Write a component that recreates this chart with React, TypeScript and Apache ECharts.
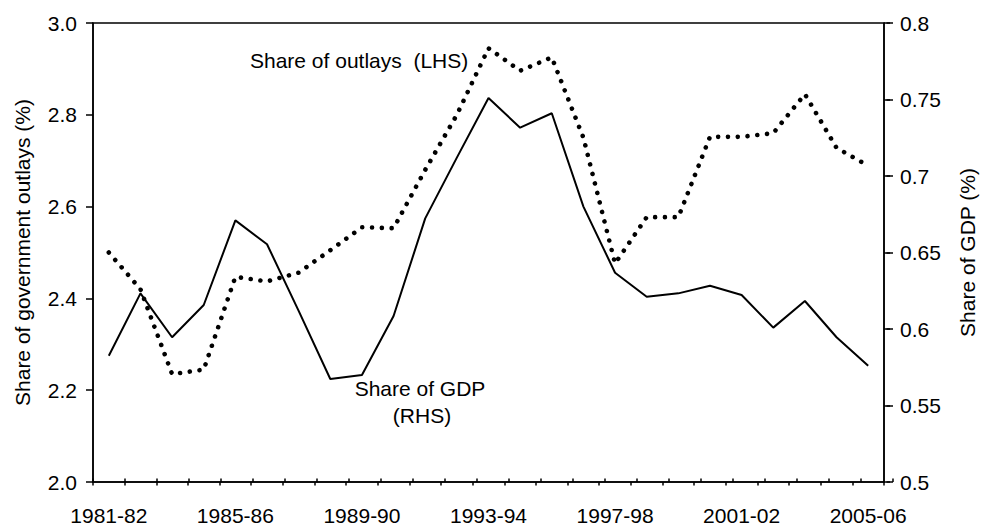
import React, { useEffect, useRef } from "react";
import * as echarts from "echarts";

const years = [
  "1981-82", "1982-83", "1983-84", "1984-85", "1985-86", "1986-87", "1987-88",
  "1988-89", "1989-90", "1990-91", "1991-92", "1992-93", "1993-94", "1994-95",
  "1995-96", "1996-97", "1997-98", "1998-99", "1999-00", "2000-01", "2001-02",
  "2002-03", "2003-04", "2004-05", "2005-06",
];

// Share of government outlays (%), LHS — dotted line
const outlaysShare = [
  2.5, 2.42, 2.235, 2.245, 2.447, 2.437, 2.456, 2.505, 2.555, 2.553, 2.68,
  2.8, 2.945, 2.896, 2.925, 2.75, 2.476, 2.577, 2.577, 2.752, 2.752, 2.76,
  2.845, 2.728, 2.689,
];

// Share of GDP (%), RHS — solid line
const gdpShare = [
  0.5825, 0.6233, 0.5946, 0.6157, 0.671, 0.6554, 0.6118, 0.5673, 0.5699,
  0.6085, 0.6723, 0.712, 0.751, 0.7316, 0.741, 0.68, 0.6368, 0.6211, 0.6233,
  0.6283, 0.6222, 0.6009, 0.6183, 0.5946, 0.576,
];

const leftMin = 2.0;
const leftMax = 3.0;
const leftStep = 0.2;
const rightMin = 0.5;
const rightMax = 0.8;
const rightStep = 0.05;

const FONT = "'Liberation Sans', Arial, Helvetica, sans-serif";
const FS = 21;
const INK = "#000";

export default function App() {
  const ref = useRef<HTMLDivElement>(null);

  useEffect(() => {
    if (!ref.current) return;
    const chart = echarts.init(ref.current, null, { renderer: "svg" });
    const grid = { left: 93, right: 93, top: 23, bottom: 46, containLabel: false };
    const lineStyle = { color: INK, width: 1.5 };
    const textStyle = { color: INK, fontSize: FS, fontFamily: FONT };

    chart.setOption({
      animation: false,
      backgroundColor: "#fff",
      grid: [
        { ...grid, show: true, borderColor: INK, borderWidth: 1.5, backgroundColor: "transparent" },
        { ...grid },
      ],
      xAxis: [
        {
          type: "category",
          gridIndex: 0,
          data: years,
          boundaryGap: true,
          axisLine: { show: true, lineStyle },
          axisTick: { show: true, interval: 0, length: 3.5, lineStyle },
          axisLabel: { interval: 3, margin: 23, ...textStyle },
          splitLine: { show: false },
        },
        {
          type: "category",
          gridIndex: 1,
          data: years,
          boundaryGap: true,
          axisLine: { show: false },
          axisTick: { show: true, inside: true, interval: 0, length: 3.5, lineStyle },
          axisLabel: { show: false },
          splitLine: { show: false },
        },
      ],
      yAxis: [
        {
          type: "value",
          gridIndex: 0,
          position: "left",
          min: leftMin,
          max: leftMax,
          interval: leftStep,
          name: "Share of government outlays (%)",
          nameLocation: "middle",
          nameGap: 60,
          nameTextStyle: textStyle,
          axisLine: { show: true, lineStyle },
          axisTick: { show: true, length: 7, lineStyle },
          axisLabel: { margin: 16, formatter: (v: number) => v.toFixed(1), ...textStyle },
          splitLine: { show: false },
        },
        {
          type: "value",
          gridIndex: 0,
          position: "right",
          min: rightMin,
          max: rightMax,
          interval: rightStep,
          name: "Share of GDP (%)",
          nameLocation: "middle",
          nameGap: 73,
          nameTextStyle: textStyle,
          axisLine: { show: true, lineStyle },
          axisTick: { show: true, length: 6, lineStyle },
          axisLabel: {
            margin: 16,
            formatter: (v: number) => String(parseFloat(v.toFixed(2))),
            ...textStyle,
          },
          splitLine: { show: false },
        },
        {
          type: "value",
          gridIndex: 1,
          position: "right",
          min: rightMin,
          max: rightMax,
          interval: rightStep,
          axisLine: { show: false },
          axisTick: { show: true, inside: true, length: 6.5, lineStyle },
          axisLabel: { show: false },
          splitLine: { show: false },
        },
      ],
      series: [
        {
          name: "Share of GDP (RHS)",
          type: "line",
          xAxisIndex: 0,
          yAxisIndex: 1,
          data: gdpShare,
          symbol: "none",
          lineStyle: { color: INK, width: 2 },
        },
        {
          name: "Share of outlays (LHS)",
          type: "line",
          xAxisIndex: 0,
          yAxisIndex: 0,
          data: outlaysShare,
          symbol: "none",
          lineStyle: { color: INK, width: 4.6, type: [0.01, 9.8], cap: "round", join: "round" },
        },
      ],
      graphic: [
        {
          type: "text",
          x: 250,
          y: 60,
          style: {
            text: "Share of outlays  (LHS)",
            fill: INK,
            fontSize: FS,
            fontFamily: FONT,
            align: "left",
            verticalAlign: "middle",
          },
        },
        {
          type: "text",
          x: 420,
          y: 388,
          style: {
            text: "Share of GDP",
            fill: INK,
            fontSize: FS,
            fontFamily: FONT,
            align: "center",
            verticalAlign: "middle",
          },
        },
        {
          type: "text",
          x: 422,
          y: 415,
          style: {
            text: "(RHS)",
            fill: INK,
            fontSize: FS,
            fontFamily: FONT,
            align: "center",
            verticalAlign: "middle",
          },
        },
      ],
    });

    return () => chart.dispose();
  }, []);

  return (
    <div
      ref={ref}
      style={{ position: "fixed", left: 0, top: 0, width: 986, height: 528, background: "#fff" }}
    />
  );
}
